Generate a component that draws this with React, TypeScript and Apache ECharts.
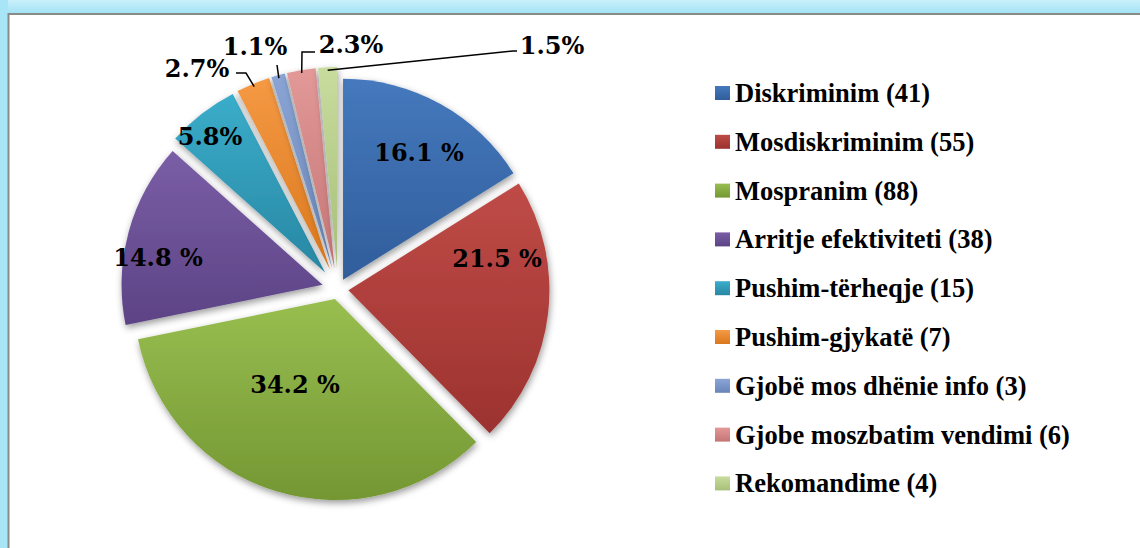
import React, { useEffect, useRef } from "react";
import * as echarts from "echarts";

// ---------- data ----------
const CATEGORIES = [
  "Diskriminim",
  "Mosdiskriminim",
  "Mospranim",
  "Arritje efektiviteti",
  "Pushim-tërheqje",
  "Pushim-gjykatë",
  "Gjobë mos dhënie info",
  "Gjobe moszbatim vendimi",
  "Rekomandime",
];
const COUNTS = [41, 55, 88, 38, 15, 7, 3, 6, 4];
const PERCENTS = [16.1, 21.5, 34.2, 14.8, 5.8, 2.7, 1.1, 2.3, 1.5];

// ---------- style / layout ----------
const COLORS: [string, string][] = [
  ["#4579bd", "#305d9b"],
  ["#bf4b47", "#9c322f"],
  ["#98be50", "#749733"],
  ["#7a5ea6", "#5c4385"],
  ["#3aadca", "#2887a3"],
  ["#f59944", "#da781d"],
  ["#8aa5d5", "#6984b7"],
  ["#e29998", "#c47574"],
  ["#c8dc9e", "#a7c078"],
];
const CX = 338;
const CY = 289;
const R = 201;
const EXPLODE_GROUPS = [
  { offset: 10.5, items: [0, 1, 2] },
  { offset: 16, items: [3] },
  { offset: 21, items: [4, 5, 6, 7, 8] },
];
const INSIDE = [true, true, true, true, true, false, false, false, false];
const LABEL_AT: [number, number][] = [
  [419, 152],
  [497, 258],
  [295, 384],
  [158, 257],
  [210, 136],
  [197, 68],
  [255, 46],
  [351, 44],
  [552, 45],
];
const LEADER: ([number, number][] | null)[] = [
  null, null, null, null, null,
  [[246, 73], [236, 73]],
  [[277, 65], [277, 65]],
  [[302, 52], [315, 52]],
  [[513, 51], [517, 51]],
];

const grad = (i: number) =>
  new echarts.graphic.LinearGradient(0, 0, 0, 1, [
    { offset: 0, color: COLORS[i][0] },
    { offset: 1, color: COLORS[i][1] },
  ]);

const NAMES = CATEGORIES.map((c, i) => `${c} (${COUNTS[i]})`);
const TOTAL = PERCENTS.reduce((a, b) => a + b, 0);
const CLEAR = "rgba(0,0,0,0)";

function midAngle(i: number) {
  let cum = 0;
  for (let k = 0; k < i; k++) cum += PERCENTS[k];
  return ((cum + PERCENTS[i] / 2) / TOTAL) * Math.PI * 2;
}

function offsetOf(i: number) {
  const g = EXPLODE_GROUPS.find((gr) => gr.items.includes(i));
  return g ? g.offset : 0;
}

const hiddenItem = (i: number, v: number) => ({
  name: NAMES[i],
  value: v,
  itemStyle: { color: CLEAR, shadowBlur: 0, shadowColor: CLEAR, borderWidth: 0 },
  label: { show: false },
  labelLine: { show: false },
});

export default function App() {
  const ref = useRef<HTMLDivElement>(null);
  useEffect(() => {
    if (!ref.current) return;
    const chart = echarts.init(ref.current, undefined, { renderer: "svg" });

    const labelLayout = (params: any) => {
      const i = params.dataIndex;
      const [x, y] = LABEL_AT[i];
      const out: any = { x, y, align: "center", verticalAlign: "middle" };
      const lead = LEADER[i];
      if (lead) {
        const a = midAngle(i);
        const rr = R + offsetOf(i) - 3;
        const p0: [number, number] = [CX + rr * Math.sin(a), CY - rr * Math.cos(a)];
        out.labelLinePoints = [p0, lead[0], lead[1]];
      }
      return out;
    };

    const base = {
      type: "pie",
      center: [CX, CY],
      radius: R,
      startAngle: 90,
      clockwise: true,
      avoidLabelOverlap: false,
      silent: true,
      emphasis: { disabled: true },
    };

    const sliceSeries = EXPLODE_GROUPS.map((g) => ({
      ...base,
      selectedMode: "multiple",
      selectedOffset: g.offset,
      label: { show: false },
      labelLine: { show: false },
      data: PERCENTS.map((v, i) => {
        if (!g.items.includes(i)) return hiddenItem(i, v);
        return {
          name: NAMES[i],
          value: v,
          selected: true,
          itemStyle: {
            color: grad(i),
            shadowBlur: 7,
            shadowColor: "rgba(0,0,0,0.4)",
            shadowOffsetX: 1,
            shadowOffsetY: 3,
            borderWidth: 0,
          },
        };
      }),
    }));

    const labelSeries = {
      ...base,
      z: 5,
      labelLayout,
      data: PERCENTS.map((v, i) => ({
        name: NAMES[i],
        value: v,
        itemStyle: { color: CLEAR, shadowBlur: 0, shadowColor: CLEAR, borderWidth: 0 },
        label: {
          show: true,
          position: INSIDE[i] ? "inside" : "outside",
          formatter: i < 4 ? `${v} %` : `${v}%`,
          fontFamily: "DejaVu Serif",
          fontWeight: "bold",
          fontSize: 24,
          color: "#000",
        },
        labelLine: {
          show: !INSIDE[i],
          lineStyle: { color: "#000", width: 1.5 },
        },
      })),
    };

    chart.setOption({
      animation: false,
      backgroundColor: "#fff",
      graphic: [
        {
          type: "rect",
          shape: { x: 0, y: 0, width: 1140, height: 13 },
          style: {
            fill: new echarts.graphic.LinearGradient(0, 0, 0, 1, [
              { offset: 0, color: "#c9f0fb" },
              { offset: 1, color: "#a4e3f5" },
            ]),
          },
          silent: true,
        },
        {
          type: "rect",
          shape: { x: 0, y: 0, width: 8, height: 548 },
          style: { fill: "#a8e5f6" },
          silent: true,
        },
        {
          type: "rect",
          shape: { x: 8, y: 13, width: 1132, height: 2 },
          style: { fill: "#8a8a8a" },
          silent: true,
        },
        {
          type: "rect",
          shape: { x: 7.5, y: 13, width: 2, height: 535 },
          style: { fill: "#8a8a8a" },
          silent: true,
        },
      ],
      legend: {
        orient: "vertical",
        left: 715,
        top: 78,
        padding: 0,
        itemWidth: 15,
        itemHeight: 14,
        itemGap: 18.8,
        icon: "rect",
        selectedMode: false,
        data: NAMES.map((n, i) => ({ name: n, itemStyle: { color: grad(i) } })),
        textStyle: {
          fontFamily: "'Liberation Serif', 'Times New Roman', Times, serif",
          fontWeight: "bold",
          fontSize: 26.5,
          lineHeight: 30,
          color: "#000",
        },
      },
      series: [...sliceSeries, labelSeries],
    });

    return () => chart.dispose();
  }, []);

  return (
    <div
      ref={ref}
      style={{ position: "absolute", left: 0, top: 0, width: 1140, height: 548 }}
    />
  );
}
